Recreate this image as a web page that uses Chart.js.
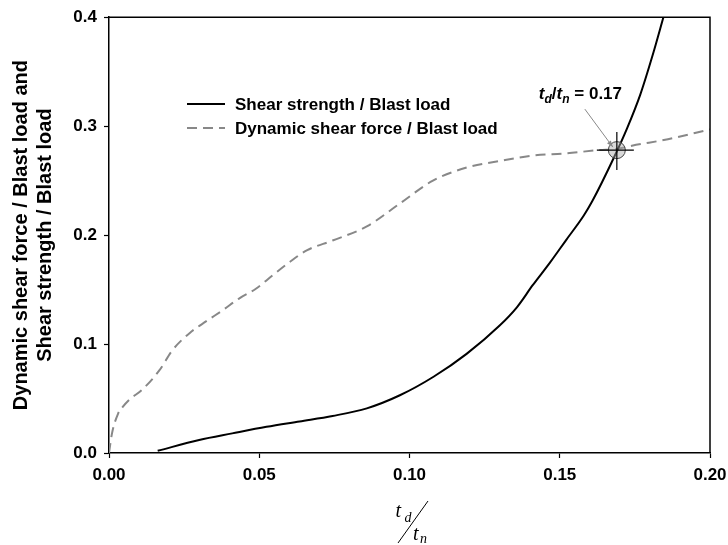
<!DOCTYPE html>
<html>
<head>
<meta charset="utf-8">
<script src="https://cdn.jsdelivr.net/npm/chart.js@4.4.1/dist/chart.umd.min.js"></script>
<style>
  html, body { margin: 0; padding: 0; background: #fff; }
  #wrap { width: 728px; height: 545px; position: relative; }
</style>
</head>
<body>
<div id="wrap"><canvas id="c" width="728" height="545"></canvas></div>
<script>
// ---- data ----
const seriesLabels = ['Shear strength / Blast load', 'Dynamic shear force / Blast load'];

const strengthX = [0.0162, 0.030, 0.041, 0.0524, 0.0634, 0.0744, 0.0858, 0.0968, 0.108, 0.119, 0.130, 0.1358, 0.141, 0.1468, 0.152, 0.158, 0.1608, 0.168, 0.1724, 0.1768, 0.181, 0.1845];
const strengthY = [0.002, 0.012, 0.018, 0.024, 0.029, 0.034, 0.041, 0.053, 0.070, 0.091, 0.117, 0.134, 0.154, 0.175, 0.195, 0.218, 0.231, 0.271, 0.298, 0.329, 0.366, 0.400];

const forceX = [0, 0.001, 0.003, 0.0045, 0.0068, 0.011, 0.0168, 0.021, 0.0268, 0.0324, 0.0378, 0.0434, 0.049, 0.0544, 0.060, 0.0658, 0.0744, 0.0858, 0.0968, 0.1078, 0.119, 0.130, 0.141, 0.152, 0.163, 0.169, 0.174, 0.186, 0.200];
const forceY = [0, 0.018, 0.036, 0.042, 0.049, 0.058, 0.076, 0.094, 0.110, 0.121, 0.131, 0.142, 0.151, 0.163, 0.175, 0.186, 0.195, 0.208, 0.229, 0.250, 0.262, 0.268, 0.273, 0.275, 0.278, 0.279, 0.282, 0.288, 0.297];

const xTickValues = [0, 0.05, 0.10, 0.15, 0.20];
const yTickValues = [0, 0.1, 0.2, 0.3, 0.4];

const yTitleLines = ['Dynamic shear force / Blast load and', 'Shear strength / Blast load'];
const intersection = { x: 0.169, y: 0.278, label: '0.17' };

// ---- build chart ----
const toPoints = (xs, ys) => xs.map((x, i) => ({ x: x, y: ys[i] }));
const SANS = "'Liberation Sans', Arial, sans-serif";
const SERIF = "'Liberation Serif', 'Times New Roman', serif";

const decorPlugin = {
  id: 'decor',
  afterDraw(chart) {
    const ctx = chart.ctx;
    const a = chart.chartArea;
    const xs = chart.scales.x, ys = chart.scales.y;
    ctx.save();
    // top & right frame
    ctx.strokeStyle = '#000';
    ctx.lineWidth = 1.5;
    ctx.beginPath();
    ctx.moveTo(a.left, a.top);
    ctx.lineTo(a.right, a.top);
    ctx.lineTo(a.right, a.bottom);
    ctx.stroke();

    // legend inside plot
    const ds = chart.data.datasets;
    const rows = [104, 128];
    ds.forEach((d, i) => {
      ctx.save();
      ctx.strokeStyle = d.borderColor;
      ctx.lineWidth = d.borderWidth;
      ctx.setLineDash(d.borderDash || []);
      ctx.beginPath();
      ctx.moveTo(187, rows[i]);
      ctx.lineTo(225, rows[i]);
      ctx.stroke();
      ctx.restore();
      ctx.fillStyle = '#000';
      ctx.font = 'bold 17px ' + SANS;
      ctx.textBaseline = 'middle';
      ctx.textAlign = 'left';
      ctx.fillText(d.label, 235, rows[i] + 1);
    });

    // intersection marker
    const px = xs.getPixelForValue(intersection.x);
    const py = ys.getPixelForValue(intersection.y);
    ctx.fillStyle = 'rgba(170,170,170,0.45)';
    ctx.strokeStyle = '#444';
    ctx.lineWidth = 1;
    ctx.beginPath();
    ctx.arc(px, py, 8.5, 0, Math.PI * 2);
    ctx.fill();
    ctx.stroke();
    ctx.strokeStyle = '#000';
    ctx.lineWidth = 1.2;
    ctx.beginPath();
    ctx.moveTo(px - 20, py); ctx.lineTo(px + 17, py);
    ctx.moveTo(px, py - 18); ctx.lineTo(px, py + 20);
    ctx.stroke();

    // arrow
    const ax0 = px - 32, ay0 = py - 41, ax1 = px - 4, ay1 = py - 3;
    ctx.strokeStyle = '#888';
    ctx.fillStyle = '#888';
    ctx.lineWidth = 1;
    ctx.beginPath();
    ctx.moveTo(ax0, ay0); ctx.lineTo(ax1, ay1);
    ctx.stroke();
    const ang = Math.atan2(ay1 - ay0, ax1 - ax0);
    ctx.beginPath();
    ctx.moveTo(ax1, ay1);
    ctx.lineTo(ax1 - 7 * Math.cos(ang - 0.35), ay1 - 7 * Math.sin(ang - 0.35));
    ctx.lineTo(ax1 - 7 * Math.cos(ang + 0.35), ay1 - 7 * Math.sin(ang + 0.35));
    ctx.closePath();
    ctx.fill();

    // annotation text  t_d/t_n = 0.17
    ctx.fillStyle = '#000';
    ctx.textAlign = 'left';
    ctx.textBaseline = 'alphabetic';
    let tx = px - 78;
    const tb = py - 51;
    const put = (txt, font, dy) => { ctx.font = font; ctx.fillText(txt, tx, tb + dy); tx += ctx.measureText(txt).width; };
    put('t', 'italic bold 17px ' + SANS, 0);
    put('d', 'italic bold 12px ' + SANS, 4);
    put('/', 'bold 17px ' + SANS, 0);
    put('t', 'italic bold 17px ' + SANS, 0);
    put('n', 'italic bold 12px ' + SANS, 4);
    put(' = ' + intersection.label, 'bold 17px ' + SANS, 0);

    // x-axis title: t_d over t_n (diagonal fraction)
    const cx = (a.left + a.right) / 2;
    ctx.fillStyle = '#000';
    ctx.font = 'italic 20px ' + SERIF;
    ctx.fillText('t', cx - 14, 517);
    ctx.font = 'italic 14px ' + SERIF;
    ctx.fillText('d', cx - 5, 522);
    ctx.font = 'italic 20px ' + SERIF;
    ctx.fillText('t', cx + 3.5, 540);
    ctx.font = 'italic 14px ' + SERIF;
    ctx.fillText('n', cx + 10.5, 543);
    ctx.strokeStyle = '#000';
    ctx.lineWidth = 1;
    ctx.beginPath();
    ctx.moveTo(cx + 18.5, 501);
    ctx.lineTo(cx - 11.5, 543);
    ctx.stroke();
    ctx.restore();
  }
};

new Chart(document.getElementById('c'), {
  type: 'line',
  data: {
    datasets: [
      {
        label: seriesLabels[0],
        data: toPoints(strengthX, strengthY),
        borderColor: '#000',
        borderWidth: 2,
        pointRadius: 0,
        cubicInterpolationMode: 'monotone',
        fill: false
      },
      {
        label: seriesLabels[1],
        data: toPoints(forceX, forceY),
        borderColor: '#888',
        borderWidth: 2,
        borderDash: [10, 6],
        pointRadius: 0,
        cubicInterpolationMode: 'monotone',
        fill: false
      }
    ]
  },
  options: {
    responsive: false,
    animation: false,
    devicePixelRatio: 1,
    layout: { padding: { top: 15, right: 18, left: 0, bottom: 0 } },
    plugins: { legend: { display: false }, tooltip: { enabled: false } },
    scales: {
      x: {
        type: 'linear',
        min: 0, max: 0.2,
        afterBuildTicks: (s) => { s.ticks = xTickValues.map(v => ({ value: v })); },
        afterFit: (s) => { s.height = 92; s.paddingRight = 0; s.paddingLeft = 0; },
        ticks: {
          callback: (v) => Number(v).toFixed(2),
          font: { family: SANS, size: 17, weight: 'bold' },
          color: '#000',
          padding: 7,
          maxRotation: 0
        },
        grid: { display: true, drawOnChartArea: false, drawTicks: true, tickLength: 5, color: '#000', tickWidth: 1.2 },
        border: { display: true, color: '#000', width: 1.5 },
        title: { display: false }
      },
      y: {
        type: 'linear',
        min: 0, max: 0.4,
        afterBuildTicks: (s) => { s.ticks = yTickValues.map(v => ({ value: v })); },
        afterFit: (s) => { s.width = 109; },
        ticks: {
          callback: (v) => Number(v).toFixed(1),
          font: { family: SANS, size: 17, weight: 'bold' },
          color: '#000',
          padding: 7
        },
        grid: { display: true, drawOnChartArea: false, drawTicks: true, tickLength: 5, color: '#000', tickWidth: 1.2 },
        border: { display: true, color: '#000', width: 1.5 },
        title: {
          display: true,
          text: yTitleLines,
          font: { family: SANS, size: 20, weight: 'bold', lineHeight: 1.2 },
          color: '#000',
          padding: { top: 9, bottom: 0 }
        }
      }
    }
  },
  plugins: [decorPlugin]
});
</script>
</body>
</html>
